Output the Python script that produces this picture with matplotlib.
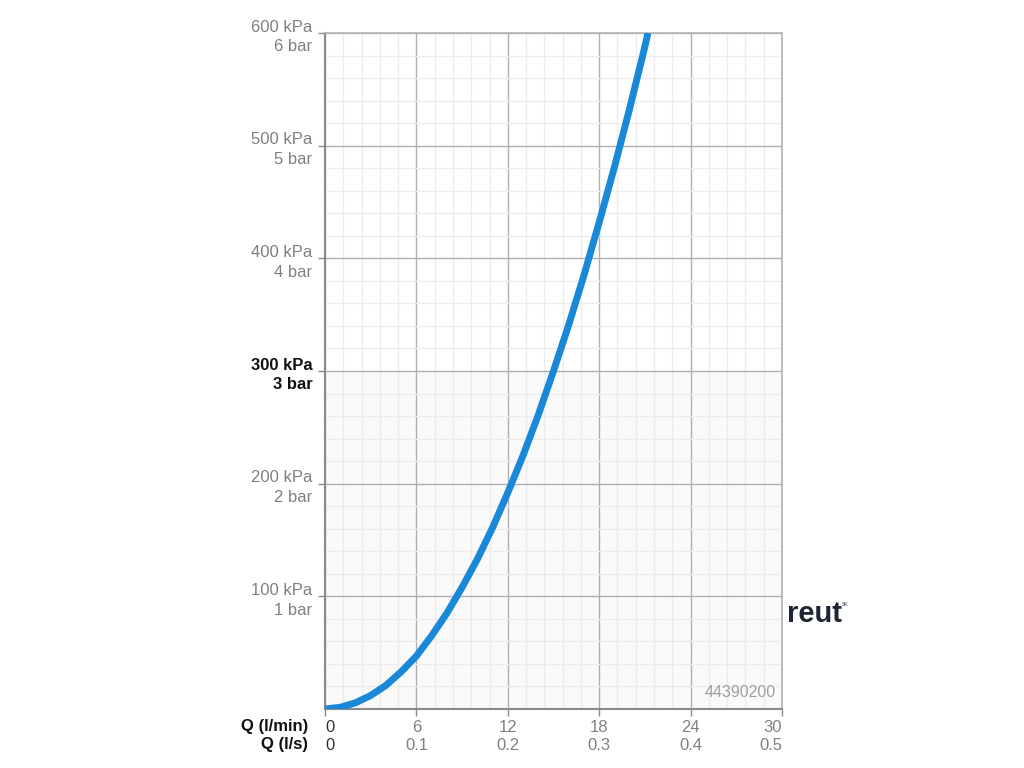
import numpy as np
import matplotlib.pyplot as plt
from matplotlib.ticker import MultipleLocator

plt.rcParams['font.family'] = ['Liberation Sans', 'DejaVu Sans']

# flow rate (l/min) vs pressure loss (kPa)
q_lmin = [0, 1, 2, 3, 4, 5, 6, 7, 8, 9, 10, 11, 12, 13, 14, 15, 16, 17, 18, 19, 20, 21, 21.2]
p_kpa = [0, 1.5, 5.5, 12, 21, 33, 47, 65, 85, 108, 133, 161, 192, 225, 261, 300, 341, 385, 432, 481, 533, 588, 600]

x_ticks = [0, 6, 12, 18, 24, 30]
x_lmin_labels = ['0', '6', '12', '18', '24', '30']
x_ls_labels = ['0', '0.1', '0.2', '0.3', '0.4', '0.5']
y_ticks = [100, 200, 300, 400, 500, 600]
y_labels = ['100 kPa\n1 bar', '200 kPa\n2 bar', '300 kPa\n3 bar',
            '400 kPa\n4 bar', '500 kPa\n5 bar', '600 kPa\n6 bar']

fig = plt.figure(figsize=(10.24, 7.68), dpi=100)
ax = fig.add_axes([325/1024, 1 - 709/768, 457/1024, 676/768])

ax.set_xlim(0, 30)
ax.set_ylim(0, 600)

# light fill in the lower part of the chart
ax.axhspan(0, 300, color='#fafafa', zorder=0)

ax.xaxis.set_minor_locator(MultipleLocator(1.2))
ax.yaxis.set_minor_locator(MultipleLocator(20))
ax.grid(which='minor', color='#ececec', linewidth=1.0, zorder=1)
ax.grid(which='major', color='#b0b0b0', linewidth=1.0, zorder=1)
ax.tick_params(which='minor', length=0)

ax.plot(q_lmin, p_kpa, color='#1a88d8', linewidth=5, solid_capstyle='butt', zorder=3)

for side in ['top', 'right']:
    ax.spines[side].set_color('#b4b4b4')
    ax.spines[side].set_linewidth(1.2)
for side in ['left', 'bottom']:
    ax.spines[side].set_color('#8a8a8a')
    ax.spines[side].set_linewidth(1.5)

ax.set_yticks(y_ticks)
ax.set_yticklabels(y_labels, fontsize=12, color='#808080', linespacing=1.4)
ax.tick_params(axis='y', length=5, width=1, color='#8a8a8a', pad=4)
for lab in ax.get_yticklabels():
    lab.set_ha('right')
    if lab.get_text().startswith('300'):
        lab.set_color('#111111')
        lab.set_fontweight('bold')

ax.set_xticks(x_ticks)
ax.set_xticklabels([a + '\n' + b for a, b in zip(x_lmin_labels, x_ls_labels)],
                   fontsize=12, color='#808080', linespacing=1.25)
ax.tick_params(axis='x', length=5, width=1, color='#8a8a8a', pad=3)
xl = ax.get_xticklabels()
xl[0].set_ha('left')
xl[0].set_color('#333333')
xl[-1].set_ha('right')

fig.text(308/1024, 1 - 726/768, 'Q (l/min)', ha='right', va='center',
         fontsize=12, fontweight='bold', color='#111111')
fig.text(308/1024, 1 - 745/768, 'Q (l/s)', ha='right', va='center',
         fontsize=12, fontweight='bold', color='#111111')

ax.text(29.6, 8, '44390200', ha='right', va='bottom', fontsize=11.5, color='#a0a0a0', zorder=4)

fig.text(787/1024, 1 - 614/768, 'reut', ha='left', va='center',
         fontsize=21, fontweight='bold', color='#1e2533')
fig.text(842/1024, 1 - 605/768, 'SK', ha='left', va='center',
         fontsize=3.5, color='#1e2533')

plt.savefig('out.png', dpi=100)
